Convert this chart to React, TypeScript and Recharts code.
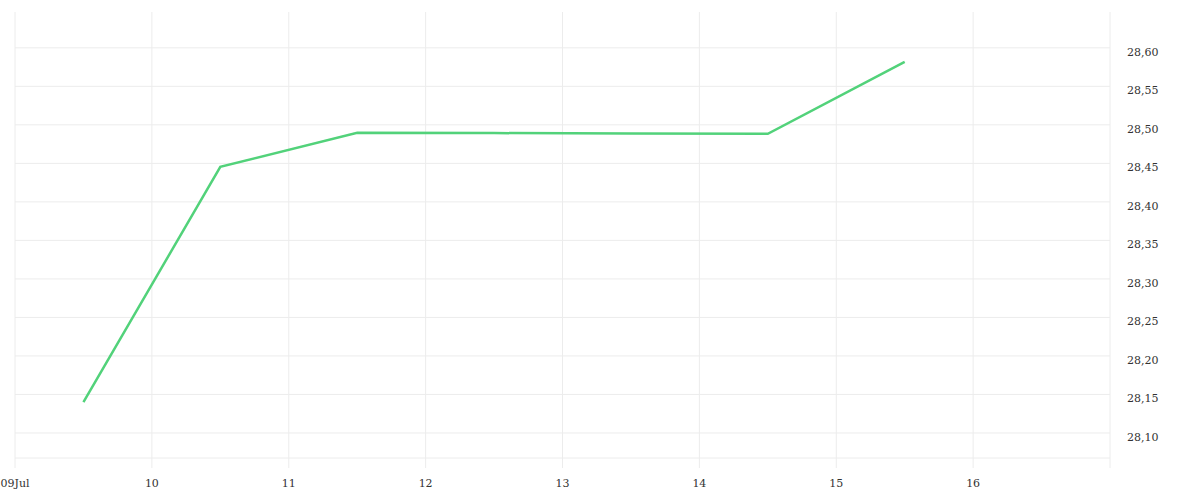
import { LineChart, Line, XAxis, YAxis, CartesianGrid } from "recharts";

// days in July, points sit at midday
const days = [9.5, 10.5, 11.5, 12.5, 13.5, 14.5, 15.5];
const rates = [28.14, 28.4455, 28.4896, 28.4893, 28.4889, 28.4883, 28.5818];

const dayTicks = [9, 10, 11, 12, 13, 14, 15, 16, 17];
const rateTicks = [28.1, 28.15, 28.2, 28.25, 28.3, 28.35, 28.4, 28.45, 28.5, 28.55, 28.6];

const data = days.map((d, i) => ({ day: d, rate: rates[i] }));

const GRID = "#ececec";
const TEXT = "#333";

const dayLabel = (v: number) => (v === 9 ? "09Jul" : v === 17 ? "" : String(v));
const rateLabel = (v: number) => v.toFixed(2).replace(".", ",");

export default function App() {
  return (
    <div
      style={{
        position: "absolute",
        left: 0,
        top: 0,
        fontFamily: "'DejaVu Serif', serif",
      }}
    >
      <LineChart
        width={1200}
        height={500}
        data={data}
        margin={{ top: 12, right: 0, left: 15, bottom: 0 }}
      >
        <CartesianGrid stroke={GRID} strokeWidth={1} syncWithTicks />
        <XAxis
          dataKey="day"
          type="number"
          domain={[9, 17]}
          ticks={dayTicks}
          tickFormatter={dayLabel}
          interval={0}
          height={42}
          tickSize={10}
          tickMargin={11}
          axisLine={{ stroke: GRID }}
          tickLine={{ stroke: GRID }}
          tick={{ fontSize: 11, fill: TEXT }}
        />
        <YAxis
          orientation="right"
          type="number"
          domain={[28.0675, 28.6465]}
          ticks={rateTicks}
          tickFormatter={rateLabel}
          interval={0}
          width={90}
          axisLine={false}
          tickLine={false}
          tickMargin={11}
          tick={{ fontSize: 11, fill: TEXT, dy: 4 }}
        />
        <Line
          type="linear"
          dataKey="rate"
          stroke="#52d27a"
          strokeWidth={2.5}
          dot={false}
          activeDot={false}
          isAnimationActive={false}
        />
      </LineChart>
    </div>
  );
}
